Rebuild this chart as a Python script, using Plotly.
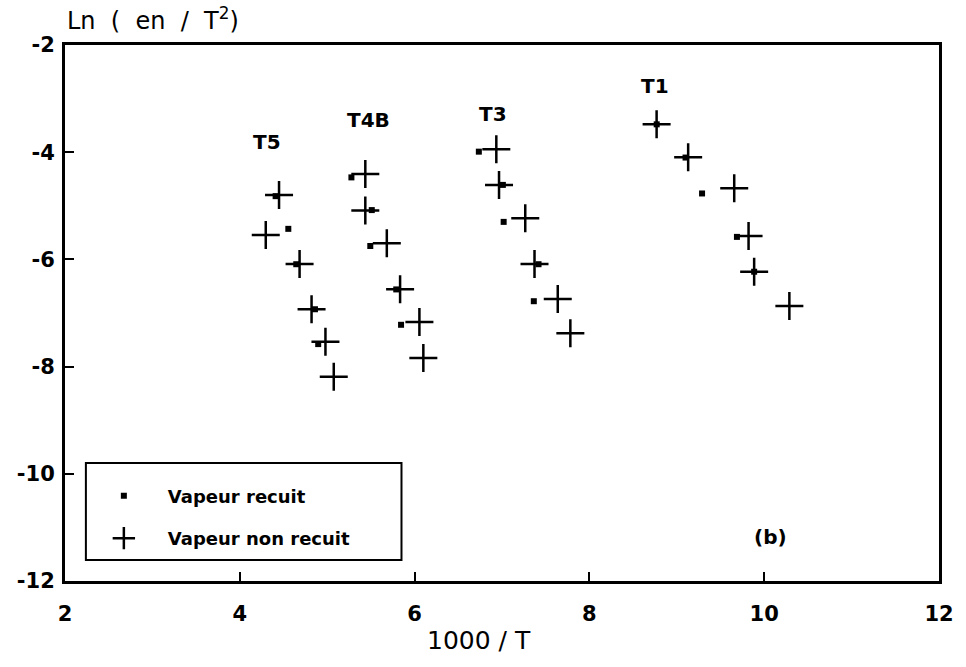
import plotly.graph_objects as go

# Arrhenius-type plot: Ln(en/T^2) versus 1000/T for four traps (T5, T4B, T3, T1)
# Annealed samples ("Vapeur recuit")
recuit_x = [4.41, 4.555, 4.646, 4.86, 4.897,
            5.277, 5.51, 5.493, 5.79, 5.845,
            6.735, 7.01, 7.019, 7.418, 7.364,
            8.77, 9.10, 9.289, 9.688, 9.885]
recuit_y = [-4.82, -5.43, -6.09, -6.93, -7.58,
            -4.47, -5.08, -5.75, -6.56, -7.22,
            -3.99, -4.61, -5.30, -6.09, -6.78,
            -3.48, -4.10, -4.77, -5.58, -6.23]

# Non-annealed samples ("Vapeur non recuit")
nonrecuit_x = [4.449, 4.297, 4.684, 4.821, 4.98, 5.075,
               5.436, 5.436, 5.682, 5.834, 6.055, 6.10,
               6.935, 6.966, 7.266, 7.372, 7.638, 7.782,
               8.769, 9.13, 9.657, 9.821, 9.885, 10.288]
nonrecuit_y = [-4.80, -5.545, -6.086, -6.93, -7.535, -8.19,
               -4.407, -5.09, -5.70, -6.558, -7.17, -7.84,
               -3.946, -4.612, -5.233, -6.086, -6.739, -7.38,
               -3.48, -4.095, -4.674, -5.563, -6.23, -6.87]

trap_names = ["T5", "T4B", "T3", "T1"]
trap_label_x = [4.31, 5.47, 6.90, 8.75]
trap_label_y = [-3.81, -3.40, -3.29, -2.76]

x_ticks = [2, 4, 6, 8, 10, 12]
y_ticks = [-2, -4, -6, -8, -10, -12]

FONT = "DejaVu Sans"

fig = go.Figure()
fig.add_trace(go.Scatter(
    x=recuit_x, y=recuit_y, mode="markers", name="Vapeur recuit",
    legendgroup="a",
    marker=dict(symbol="square", size=6, color="black", line=dict(width=0)),
))
fig.add_trace(go.Scatter(
    x=nonrecuit_x, y=nonrecuit_y, mode="markers", name="Vapeur non recuit",
    legendgroup="b",
    marker=dict(symbol="cross-thin", size=20, color="black",
                line=dict(width=2.5, color="black")),
))

for name, lx, ly in zip(trap_names, trap_label_x, trap_label_y):
    fig.add_annotation(x=lx, y=ly, text=name, showarrow=False,
                       font=dict(family=FONT, size=20, color="black", weight="bold"))

fig.add_annotation(x=10.07, y=-11.18, text="(b)", showarrow=False,
                   font=dict(family=FONT, size=20, color="black", weight="bold"))

# y-axis title placed above the frame, starting at its left corner
fig.add_annotation(xref="paper", yref="paper", x=0.0, y=1.0, yshift=8,
                   xanchor="left", yanchor="bottom", showarrow=False,
                   text="Ln&nbsp;&nbsp;(&nbsp;&nbsp;en&nbsp;&nbsp;/&nbsp;&nbsp;T<sup>2</sup>)",
                   font=dict(family=FONT, size=24, color="black"))

# x-axis title
fig.add_annotation(xref="paper", yref="paper", x=0.474, y=0.0, yshift=-43,
                   xanchor="center", yanchor="top", showarrow=False,
                   text="1000 / T",
                   font=dict(family=FONT, size=25, color="black"))

# legend frame
fig.add_shape(type="rect", xref="paper", yref="paper",
              x0=0.0239, x1=0.385, y0=0.039, y1=0.220,
              line=dict(color="black", width=2), fillcolor="white", layer="below")

axis_common = dict(
    showgrid=False, zeroline=False, showline=True, linecolor="black",
    linewidth=3, mirror=True, ticks="inside", ticklen=9, tickwidth=2,
    tickcolor="black",
    tickfont=dict(family=FONT, size=21, color="black", weight="bold"),
)

fig.update_xaxes(range=[2, 12], tickvals=x_ticks, ticktext=[str(v) for v in x_ticks],
                 ticklabelstandoff=12, **axis_common)
fig.update_yaxes(range=[-12, -2], tickvals=y_ticks,
                 ticktext=["-2", "-4", "-6", "-8", "-10", "-12"],
                 ticklabelstandoff=3, **axis_common)

fig.update_layout(
    width=966, height=667,
    margin=dict(l=65, r=23, t=45, b=86),
    plot_bgcolor="white", paper_bgcolor="white",
    showlegend=True,
    legend=dict(x=0.017, y=0.193, xanchor="left", yanchor="top",
                bgcolor="rgba(0,0,0,0)", borderwidth=0,
                tracegroupgap=16, itemwidth=78,
                font=dict(family=FONT, size=18, color="black", weight="bold")),
)

fig.write_html("out.html")
